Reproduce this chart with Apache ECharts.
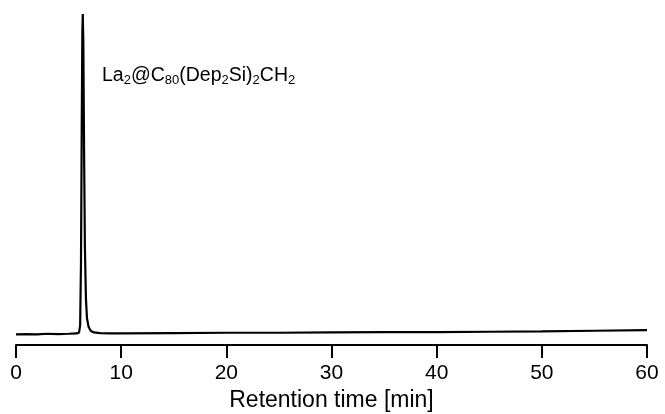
<!DOCTYPE html>
<html>
<head>
<meta charset="utf-8">
<script src="https://cdn.jsdelivr.net/npm/echarts@6/dist/echarts.min.js"></script>
<style>
  html, body { margin: 0; padding: 0; background: #fff; }
  #chart { width: 665px; height: 414px; }
</style>
</head>
<body>
<div id="chart"></div>
<script>
// Chromatogram trace: retention time (min) and detector response (relative units)
const retentionTimes = [
  0, 1, 2, 3, 4, 5, 5.8, 6.0, 6.1, 6.18, 6.25, 6.31, 6.35, 6.4, 6.47, 6.55,
  6.65, 6.75, 6.9, 7.1, 7.4, 8, 9, 10, 15, 20, 25, 30, 35, 40, 45, 50, 55, 60
];
const response = [
  3.2, 3.3, 3.2, 3.4, 3.3, 3.4, 3.5, 3.8, 6, 25, 65, 95, 100, 92, 60, 30,
  14, 8, 5.5, 4.3, 3.8, 3.6, 3.5, 3.5, 3.6, 3.7, 3.7, 3.8, 3.9, 3.9, 4.0, 4.1, 4.3, 4.5
];
const xTicks = [0, 10, 20, 30, 40, 50, 60];

const chart = echarts.init(document.getElementById('chart'), null, { renderer: 'canvas' });
const font = 'Liberation Sans, Arial, Helvetica, sans-serif';

chart.setOption({
  animation: false,
  backgroundColor: '#ffffff',
  grid: { left: 16, right: 18, top: 14, bottom: 69, containLabel: false, outerBoundsMode: 'none' },
  xAxis: {
    type: 'value',
    min: xTicks[0],
    max: xTicks[xTicks.length - 1],
    interval: 10,
    name: 'Retention time [min]',
    nameLocation: 'middle',
    nameGap: 36,
    nameTextStyle: { color: '#000', fontSize: 23, fontFamily: font },
    axisLine: { show: true, lineStyle: { color: '#000', width: 2 } },
    axisTick: { show: true, inside: false, length: 13, lineStyle: { color: '#000', width: 2 } },
    axisLabel: { color: '#000', fontSize: 21, fontFamily: font, margin: 18 },
    splitLine: { show: false }
  },
  yAxis: {
    type: 'value',
    min: 0,
    max: 100,
    show: false
  },
  series: [{
    type: 'line',
    data: retentionTimes.map((t, i) => [t, response[i]]),
    showSymbol: false,
    smooth: false,
    lineStyle: { color: '#000', width: 2.2 },
    z: 3
  }],
  graphic: [{
    type: 'text',
    left: 102,
    top: 65,
    style: {
      text: '{m|La}{s|2}{m|@C}{s|80}{m|(Dep}{s|2}{m|Si)}{s|2}{m|CH}{s|2}',
      rich: {
        m: { fontSize: 19.5, fontFamily: font, fill: '#000', lineHeight: 24 },
        s: { fontSize: 13, fontFamily: font, fill: '#000', lineHeight: 24, padding: [9, 0, 0, 0] }
      }
    }
  }]
});
</script>
</body>
</html>
